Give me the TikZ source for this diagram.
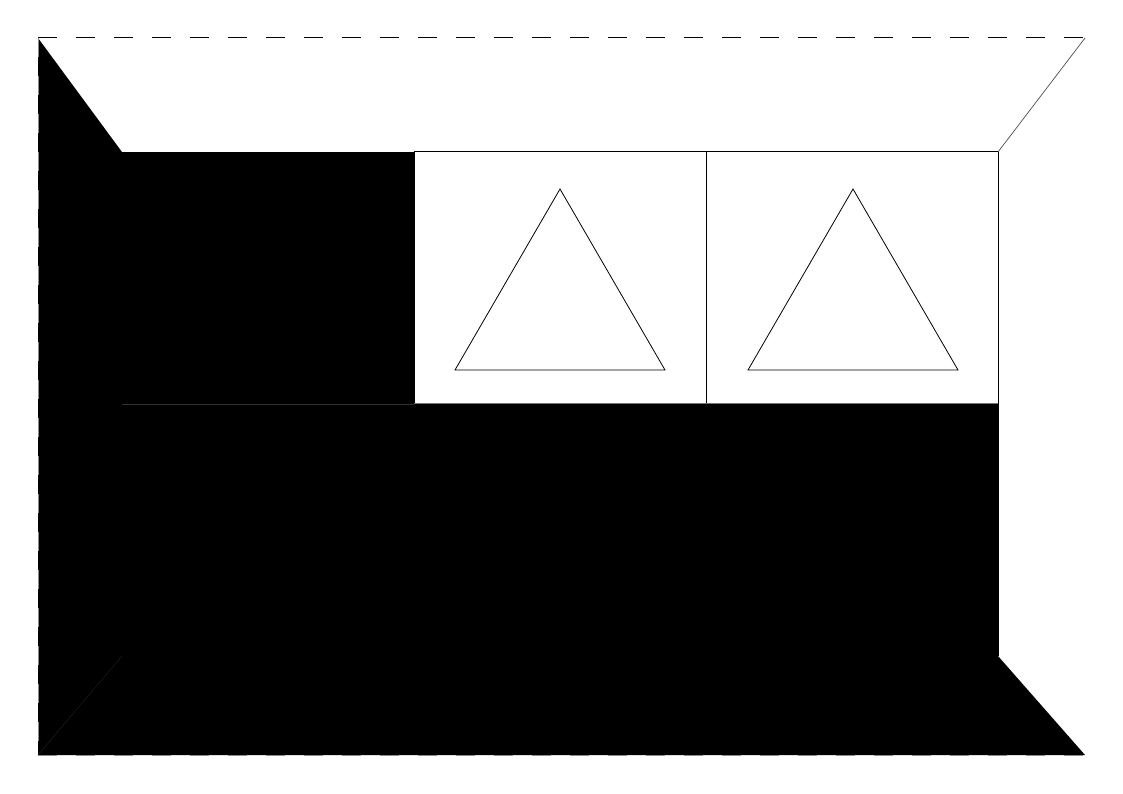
\documentclass[tikz,border=0pt]{standalone}
\begin{document}
\begin{tikzpicture}[x=1pt,y=-1pt,
  dashedge/.style={dash pattern=on 19pt off 19pt, line width=1pt},
  panel/.style={fill=white, draw=black, line width=1pt},
  tri/.style={draw=black, line width=0.8pt}]
\useasboundingbox (0,0) rectangle (1123,794);
% corners
\coordinate (OTL) at (38,38);
\coordinate (OTR) at (1085,38);
\coordinate (OBL) at (38,755);
\coordinate (OBR) at (1085,755);
\coordinate (ITL) at (122,152);
\coordinate (ITR) at (998,152);
\coordinate (IBL) at (122,656);
\coordinate (IBR) at (998,656);
% left wall
\fill[black] (OTL) -- (ITL) -- (IBL) -- (OBL) -- cycle;
% floor
\fill[black] (OBL) -- (IBL) -- (IBR) -- (OBR) -- cycle;
% back wall lower part and left panel
\fill[black] (122,404) rectangle (IBR);
\fill[black] (ITL) rectangle (414,404);
% white panels
\draw[panel] (414,152) rectangle (706,404);
\draw[panel] (706,152) rectangle (998,404);
% right wall edge
\draw[line width=1pt] (998,404) -- (IBR);
% triangles
\draw[tri] (560,189) -- (665,370) -- (455,370) -- cycle;
\draw[tri] (853,189) -- (958,370) -- (748,370) -- cycle;
% grey division line
\draw[black!55, line width=0.8pt] (414,403.5) -- (998,403.5);
\draw[black!80, line width=0.6pt] (122,404) -- (414,404);
% ceiling edges
\draw[dashedge, black] (OTL) -- (OTR);
\draw[black!70, line width=0.7pt] (OTR) -- (ITR);
\draw[dashedge, black!45] (OTL) -- (OBL);
\draw[dashedge, black!45] (OBL) -- (OBR);
\draw[black!92, line width=0.4pt] (OBL) -- (IBL);
\end{tikzpicture}
\end{document}
